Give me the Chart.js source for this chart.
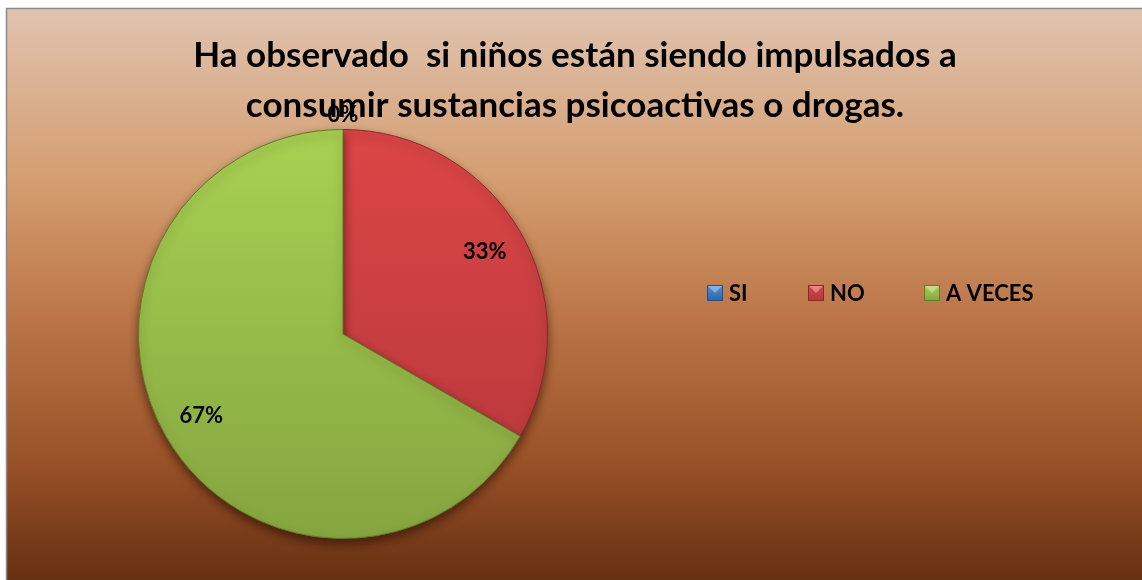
<!DOCTYPE html>
<html>
<head>
<meta charset="utf-8">
<script src="https://cdn.jsdelivr.net/npm/chart.js@4"></script>
<style>
  body { margin: 0; background: #fff; }
  canvas { display: block; }
</style>
</head>
<body>
<canvas id="pie-chart" width="1142" height="580"></canvas>
<script>
// DATOS
const categories = ["SI", "NO", "A VECES"];
const values = [0, 1, 2];
const titleLines = [
  "Ha observado  si niños están siendo impulsados a",
  "consumir sustancias psicoactivas o drogas.",
];

const FONT = "Lato";
// colores: [arriba, abajo, borde]
const sliceColors = [
  ["#4f8fd6", "#2f64a8", "#24508a"],
  ["#dc4646", "#b3363a", "#8a2a2c"],
  ["#a8d152", "#85a540", "#5f7a2c"],
];

function vertGrad(ctx, area, c1, c2) {
  const g = ctx.createLinearGradient(0, area.top, 0, area.bottom);
  g.addColorStop(0, c1);
  g.addColorStop(1, c2);
  return g;
}

// FONDO, TITULO, ETIQUETAS Y LEYENDA
const decorPlugin = {
  id: "decor",
  beforeDraw(chart) {
    const ctx = chart.ctx;
    const w = chart.width, h = chart.height;
    ctx.save();
    ctx.fillStyle = "#ffffff";
    ctx.fillRect(0, 0, w, h);
    const g = ctx.createLinearGradient(0, 8, 0, h);
    g.addColorStop(0, "#e0c3b0");
    g.addColorStop(0.3, "#d49e70");
    g.addColorStop(0.55, "#bb7446");
    g.addColorStop(0.8, "#985027");
    g.addColorStop(1, "#653012");
    ctx.fillStyle = g;
    ctx.fillRect(6, 8, w, h);
    ctx.strokeStyle = "#8c8c8c";
    ctx.lineWidth = 1.5;
    ctx.beginPath();
    ctx.moveTo(6.5, h);
    ctx.lineTo(6.5, 8.5);
    ctx.lineTo(w, 8.5);
    ctx.stroke();

    ctx.fillStyle = "#000";
    ctx.font = "bold 35px " + FONT;
    ctx.textAlign = "center";
    ctx.textBaseline = "middle";
    ctx.fillText(titleLines[0], 575, 56);
    ctx.fillText(titleLines[1], 575, 106);
    ctx.restore();
  },
  beforeDatasetsDraw(chart) {
    const ctx = chart.ctx;
    ctx.save();
    ctx.shadowColor = "rgba(40,15,0,0.6)";
    ctx.shadowBlur = 10;
    ctx.shadowOffsetY = 5;
  },
  afterDatasetsDraw(chart) {
    const ctx = chart.ctx;
    ctx.restore();
    const meta = chart.getDatasetMeta(0);
    const total = values.reduce((a, b) => a + b, 0);
    ctx.save();
    ctx.fillStyle = "#000";
    ctx.font = "bold 22px " + FONT;
    ctx.textAlign = "center";
    ctx.textBaseline = "middle";
    meta.data.forEach((arc, i) => {
      const mid = (arc.startAngle + arc.endAngle) / 2;
      const r = values[i] === 0 ? arc.outerRadius + 15 : arc.outerRadius * 0.8;
      const x = arc.x + Math.cos(mid) * r;
      const y = arc.y + Math.sin(mid) * r;
      const pct = Math.round((values[i] / total) * 100) + "%";
      ctx.fillText(pct, x, y);
    });
    ctx.restore();
  },
  afterDraw(chart) {
    const ctx = chart.ctx;
    ctx.save();
    ctx.font = "bold 22px " + FONT;
    ctx.textBaseline = "middle";
    const boxX = [707, 808, 924];
    const y = 293;
    categories.forEach((label, i) => {
      const x = boxX[i];
      const c = sliceColors[i];
      const g = ctx.createLinearGradient(0, y - 8, 0, y + 8);
      g.addColorStop(0, c[0]);
      g.addColorStop(1, c[1]);
      ctx.fillStyle = g;
      ctx.fillRect(x, y - 8, 16, 16);
      ctx.strokeStyle = c[2];
      ctx.lineWidth = 1;
      ctx.strokeRect(x + 0.5, y - 7.5, 15, 15);
      ctx.fillStyle = "rgba(255,255,255,0.35)";
      ctx.beginPath();
      ctx.moveTo(x + 1, y - 7);
      ctx.lineTo(x + 15, y - 7);
      ctx.lineTo(x + 8, y);
      ctx.closePath();
      ctx.fill();
      ctx.fillStyle = "#000";
      ctx.fillText(label, x + 22, y + 1);
    });
    ctx.restore();
  },
};

new Chart(document.getElementById("pie-chart"), {
  type: "pie",
  data: {
    labels: categories,
    datasets: [
      {
        data: values,
        backgroundColor: (c) => {
          const area = c.chart.chartArea;
          if (!area) return sliceColors[c.dataIndex][0];
          const col = sliceColors[c.dataIndex];
          return vertGrad(c.chart.ctx, area, col[0], col[1]);
        },
        borderColor: sliceColors.map((c) => c[2]),
        borderWidth: 1,
      },
    ],
  },
  options: {
    responsive: false,
    animation: false,
    layout: {
      padding: { left: 138, right: 594, top: 129, bottom: 41 },
    },
    plugins: {
      legend: { display: false },
      tooltip: { enabled: false },
    },
  },
  plugins: [decorPlugin],
});
</script>
</body>
</html>
